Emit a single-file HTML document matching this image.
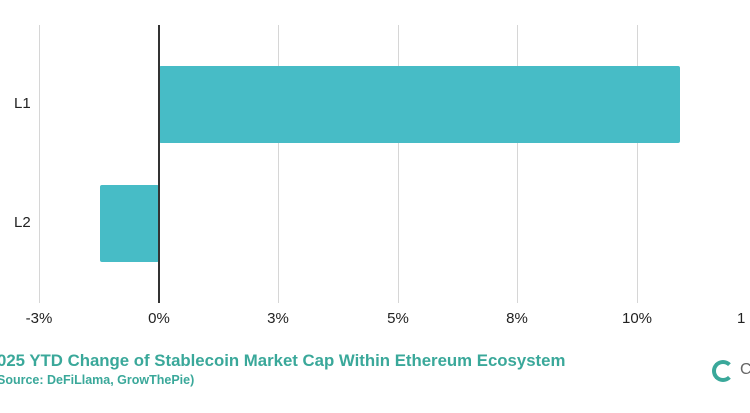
<!DOCTYPE html>
<html><head><style>
body{margin:0;background:#fff;width:750px;height:413px;overflow:hidden;position:relative;font-family:"Liberation Sans",sans-serif}
.g{position:absolute;top:25px;height:278px;width:1px;background:#d6d6d6}
.t{position:absolute;top:310px;font-size:15px;color:#222;width:60px;text-align:center}
.y{position:absolute;left:14px;font-size:15px;color:#222}
</style></head><body>
<div class="g" style="left:39px"></div>
<div class="g" style="left:278px"></div>
<div class="g" style="left:398px"></div>
<div class="g" style="left:517px"></div>
<div class="g" style="left:637px"></div>
<div style="position:absolute;left:159px;top:66px;width:521px;height:77px;background:#47bcc6;border-radius:2px"></div>
<div style="position:absolute;left:100px;top:185px;width:59px;height:77px;background:#47bcc6;border-radius:2px"></div>
<div style="position:absolute;left:158px;top:25px;width:1.5px;height:278px;background:#333"></div>
<div class="y" style="top:95px">L1</div>
<div class="y" style="top:214px">L2</div>
<div class="t" style="left:9px">-3%</div>
<div class="t" style="left:129px">0%</div>
<div class="t" style="left:248px">3%</div>
<div class="t" style="left:368px">5%</div>
<div class="t" style="left:487px">8%</div>
<div class="t" style="left:607px">10%</div>
<div class="t" style="left:737px;text-align:left">1</div>
<div style="position:absolute;left:-3px;top:351px;font-size:16.8px;font-weight:bold;color:#3aa89a;white-space:nowrap">025 YTD Change of Stablecoin Market Cap Within Ethereum Ecosystem</div>
<div style="position:absolute;left:-3px;top:373px;font-size:12.5px;font-weight:bold;color:#3aa89a;white-space:nowrap">Source: DeFiLlama, GrowThePie)</div>
<div style="position:absolute;left:712px;top:360px;width:14px;height:14px;border:4px solid #3aa89a;border-right-color:transparent;border-radius:50%"></div>
<div style="position:absolute;left:740px;top:361px;font-size:16px;color:#666">C</div>
</body></html>
